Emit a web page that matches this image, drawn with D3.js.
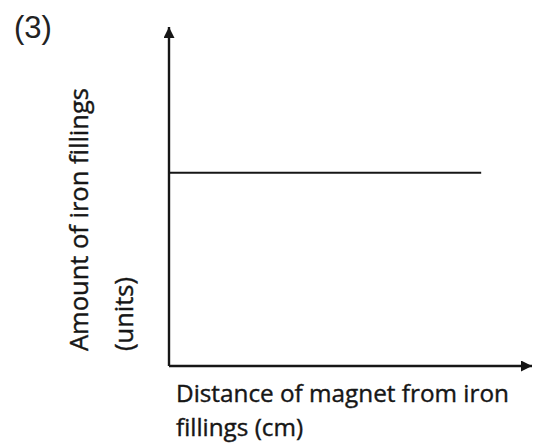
<!DOCTYPE html>
<html>
<head>
<meta charset="utf-8">
<script src="https://cdn.jsdelivr.net/npm/d3@7"></script>
<style>
  html, body { margin: 0; padding: 0; background: #fff; }
  svg { display: block; }
</style>
</head>
<body>
<script>
// ---- data ----
const panelLabel = "(3)";
const xLabelLines = ["Distance of magnet from iron", "fillings (cm)"];
const yLabelLines = ["Amount of iron fillings", "(units)"];
const xDomain = [0, 10];
const yDomain = [0, 10];
const distance = [0, 8.6];
const amount = [5.7, 5.7];

// ---- layout ----
const W = 533, H = 444;
const svg = d3.select("body").append("svg").attr("width", W).attr("height", H);

const x = d3.scaleLinear().domain(xDomain).range([169, 532]);
const y = d3.scaleLinear().domain(yDomain).range([366, 27]);

const ink = "#161616";

const defs = svg.append("defs");
defs.append("marker")
  .attr("id", "arrow")
  .attr("viewBox", "0 0 10 10")
  .attr("refX", 10).attr("refY", 5)
  .attr("markerWidth", 15).attr("markerHeight", 11)
  .attr("markerUnits", "userSpaceOnUse")
  .attr("orient", "auto")
  .append("path").attr("d", "M0,0 L10,5 L0,10 Z").attr("fill", ink);

// axes
svg.append("line")
  .attr("x1", x(xDomain[0])).attr("y1", y(yDomain[0]))
  .attr("x2", x(xDomain[0])).attr("y2", y(yDomain[1]))
  .attr("stroke", ink).attr("stroke-width", 2.4)
  .attr("marker-end", "url(#arrow)");
svg.append("line")
  .attr("x1", x(xDomain[0])).attr("y1", y(yDomain[0]))
  .attr("x2", x(xDomain[1])).attr("y2", y(yDomain[0]))
  .attr("stroke", ink).attr("stroke-width", 2.4)
  .attr("marker-end", "url(#arrow)");

// data line
const line = d3.line().x((d, i) => x(d)).y((d, i) => y(amount[i]));
svg.append("path")
  .attr("d", line(distance))
  .attr("fill", "none")
  .attr("stroke", ink)
  .attr("stroke-width", 1.8);

// panel label
svg.append("text")
  .attr("x", 14).attr("y", 38)
  .attr("font-family", "Liberation Sans, Arial, sans-serif")
  .attr("font-size", 31)
  .attr("fill", "#222")
  .text(panelLabel);

const labelFont = "'Open Sans', Lato, sans-serif";

function fit(sel, target) {
  const node = sel.node();
  const w = node.getComputedTextLength();
  const fs = parseFloat(sel.attr("font-size"));
  return fs * target / w;
}

// x label
const xl = svg.append("g").selectAll("text")
  .data(xLabelLines).join("text")
  .attr("x", 176)
  .attr("y", (d, i) => 402 + i * 34)
  .attr("font-family", labelFont)
  .attr("font-size", 22)
  .attr("fill", ink)
  .attr("stroke", ink)
  .attr("stroke-width", 0.4)
  .text(d => d);
const xfs = fit(d3.select(xl.nodes()[0]), 333);
xl.attr("font-size", xfs);

// y label
const yl = svg.append("g").selectAll("text")
  .data(yLabelLines).join("text")
  .attr("transform", (d, i) => `translate(${88 + i * 45},351) rotate(-90)`)
  .attr("font-family", labelFont)
  .attr("font-size", 22)
  .attr("fill", ink)
  .attr("stroke", ink)
  .attr("stroke-width", 0.4)
  .text(d => d);
const yfs = fit(d3.select(yl.nodes()[0]), 263);
yl.attr("font-size", yfs);
</script>
</body>
</html>
